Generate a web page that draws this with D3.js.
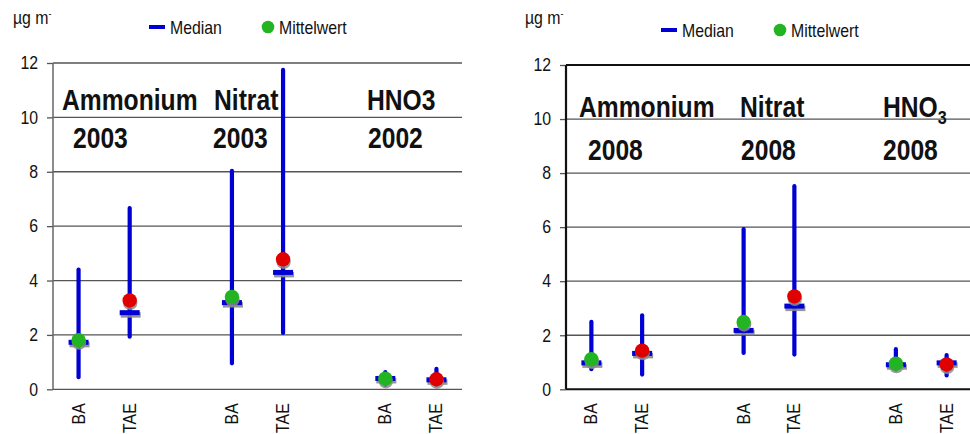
<!DOCTYPE html>
<html>
<head>
<meta charset="utf-8">
<script src="https://cdn.jsdelivr.net/npm/d3@7/dist/d3.min.js"></script>
<style>
  html, body { margin: 0; padding: 0; background: #fff; }
  svg { display: block; }
  text { font-family: "Liberation Sans", Arial, sans-serif; fill: #111; }
</style>
</head>
<body>
<svg id="chart" width="970" height="434"></svg>
<script>
// Category slots along the x axis (two empty slots separate the substances)
const slots = ["Amm-BA", "Amm-TAE", "gap1", "Nit-BA", "Nit-TAE", "gap2", "HNO3-BA", "HNO3-TAE"];
const slotLabels = { "Amm-BA": "BA", "Amm-TAE": "TAE", "Nit-BA": "BA", "Nit-TAE": "TAE", "HNO3-BA": "BA", "HNO3-TAE": "TAE" };
const sites = ["Amm-BA", "Amm-TAE", "Nit-BA", "Nit-TAE", "HNO3-BA", "HNO3-TAE"];
const meanColors = ["#22b422", "#e00000", "#22b422", "#e00000", "#22b422", "#e00000"];
const yTicks = [0, 2, 4, 6, 8, 10, 12];

// Panel 1: 2003 / 2002 measurements (µg m-3)
const min2003 = [0.37, 1.86, 0.88, 2.0, 0.08, 0.08];
const max2003 = [4.48, 6.74, 8.11, 11.82, 0.71, 0.83];
const median2003 = [1.71, 2.8, 3.17, 4.28, 0.38, 0.33];
const mean2003 = [1.81, 3.27, 3.4, 4.78, 0.39, 0.37];
const years2003 = ["2003", "2003", "2002"];

// Panel 2: 2008 measurements (µg m-3)
const min2008 = [0.67, 0.47, 1.27, 1.21, 0.65, 0.44];
const max2008 = [2.57, 2.81, 6.0, 7.59, 1.56, 1.34];
const median2008 = [0.96, 1.31, 2.16, 3.06, 0.89, 0.96];
const mean2008 = [1.11, 1.43, 2.49, 3.44, 0.95, 0.92];
const years2008 = ["2008", "2008", "2008"];

const substances = ["Ammonium", "Nitrat", "HNO3"];

// horizontal condensing factors for a narrow typeface look
const SMALL_K = 0.88;
const BIG_K = 0.85;

const svg = d3.select("#chart");

// place a condensed text at (x, y), optionally rotated
function narrowText(parent, x, y, k, rotate) {
  return parent.append("text")
    .attr("transform", `translate(${x},${y})${rotate ? ` rotate(${rotate})` : ""} scale(${k},1)`);
}

function drawPanel(cfg) {
  const g = svg.append("g");
  const x = d3.scaleBand().domain(slots).range([cfg.x0, cfg.x1]);
  const y = d3.scaleLinear().domain([0, 12]).range([cfg.yBottom, cfg.yTop]);

  // horizontal gridlines
  g.append("g").selectAll("line").data(yTicks).join("line")
    .attr("x1", cfg.x0).attr("x2", cfg.x1)
    .attr("y1", d => y(d)).attr("y2", d => y(d))
    .attr("stroke", d => (cfg.boxed && (d === 0 || d === 12)) ? "#111" : "#555")
    .attr("stroke-width", d => (cfg.boxed && (d === 0 || d === 12)) ? 2 : 1.3);

  // y axis
  const yAxis = g.append("g")
    .attr("transform", `translate(${cfg.x0},0)`)
    .call(d3.axisLeft(y).tickValues(yTicks).tickSize(6).tickPadding(11).tickFormat(d3.format("d")));
  yAxis.select(".domain").remove();
  yAxis.selectAll(".tick line").attr("stroke", "#555").attr("stroke-width", 1.3);
  yAxis.selectAll(".tick text")
    .attr("font-size", 18).attr("fill", "#222")
    .attr("transform", `scale(${SMALL_K},1)`);
  g.append("line")
    .attr("x1", cfg.x0).attr("x2", cfg.x0)
    .attr("y1", y(12)).attr("y2", y(0))
    .attr("stroke", cfg.boxed ? "#111" : "#666")
    .attr("stroke-width", cfg.boxed ? 2.2 : 1.5);

  // x labels (rotated, reading upward)
  sites.forEach(s => {
    narrowText(g, x(s) + x.bandwidth() / 2 + 6, cfg.yBottom + 14, SMALL_K, -90)
      .attr("text-anchor", "end")
      .attr("font-size", 18)
      .attr("fill", "#222")
      .text(slotLabels[s]);
  });

  const rows = sites.map((s, i) => ({
    key: s, min: cfg.min[i], max: cfg.max[i], median: cfg.median[i], mean: cfg.mean[i], color: meanColors[i]
  }));
  const cx = d => x(d.key) + x.bandwidth() / 2;

  // range whiskers
  g.append("g").selectAll("line").data(rows).join("line")
    .attr("x1", cx).attr("x2", cx)
    .attr("y1", d => y(d.min) - 2).attr("y2", d => y(d.max) + 2)
    .attr("stroke", "#0000d4").attr("stroke-width", 4.2).attr("stroke-linecap", "round");

  // median bars with shadow
  g.append("g").selectAll("rect").data(rows).join("rect")
    .attr("x", d => cx(d) - 9).attr("y", d => y(d.median) - 1)
    .attr("width", 20).attr("height", 5.5)
    .attr("fill", "#8a8a8a").attr("opacity", 0.9);
  g.append("g").selectAll("rect").data(rows).join("rect")
    .attr("x", d => cx(d) - 10).attr("y", d => y(d.median) - 3)
    .attr("width", 20).attr("height", 5)
    .attr("fill", "#0000d4");

  // mean dots with shadow
  g.append("g").selectAll("circle").data(rows).join("circle")
    .attr("cx", d => cx(d) + 0.5).attr("cy", d => y(d.mean) + 2.5)
    .attr("r", 7.2).attr("fill", "#8a8a8a").attr("opacity", 0.85);
  g.append("g").selectAll("circle").data(rows).join("circle")
    .attr("cx", cx).attr("cy", d => y(d.mean))
    .attr("r", 7.2).attr("fill", d => d.color);

  // unit label
  const unit = narrowText(g, cfg.unitX, 24, SMALL_K).attr("font-size", 18).attr("fill", "#111");
  unit.append("tspan").text("µg m");
  unit.append("tspan").attr("dy", -7).attr("font-size", 10).text("-");

  // legend
  const lg = g.append("g");
  lg.append("line").attr("x1", cfg.legendX).attr("x2", cfg.legendX + 16)
    .attr("y1", cfg.legendY).attr("y2", cfg.legendY)
    .attr("stroke", "#0000d4").attr("stroke-width", 4);
  narrowText(lg, cfg.legendX + 21, cfg.legendY + 7, SMALL_K)
    .attr("font-size", 18).attr("fill", "#222").text("Median");
  lg.append("circle").attr("cx", cfg.legendX + 119).attr("cy", cfg.legendY)
    .attr("r", 6.3).attr("fill", "#22b422");
  narrowText(lg, cfg.legendX + 130, cfg.legendY + 7, SMALL_K)
    .attr("font-size", 18).attr("fill", "#222").text("Mittelwert");

  // substance names and years
  const tg = g.append("g");
  cfg.titles.forEach((t, i) => {
    const txt = narrowText(tg, t.x, cfg.titleY, BIG_K)
      .attr("font-size", 29).attr("font-weight", "bold").attr("fill", "#000");
    if (cfg.subscript && substances[i] === "HNO3") {
      txt.append("tspan").text("HNO");
      txt.append("tspan").attr("dy", 7).attr("font-size", 19).text("3");
    } else {
      txt.text(substances[i]);
    }
    narrowText(tg, t.yx, cfg.yearY, BIG_K)
      .attr("font-size", 29).attr("font-weight", "bold").attr("fill", "#000")
      .text(cfg.years[i]);
  });
}

drawPanel({
  x0: 53, x1: 462, yTop: 63, yBottom: 389.3, boxed: false,
  min: min2003, max: max2003, median: median2003, mean: mean2003, years: years2003,
  unitX: 13, legendX: 149, legendY: 27,
  titleY: 110, yearY: 148, subscript: false,
  titles: [{ x: 62, yx: 73 }, { x: 214, yx: 213 }, { x: 367, yx: 368 }]
});

drawPanel({
  x0: 566, x1: 972, yTop: 65, yBottom: 389.3, boxed: true,
  min: min2008, max: max2008, median: median2008, mean: mean2008, years: years2008,
  unitX: 525, legendX: 661, legendY: 30,
  titleY: 117, yearY: 160, subscript: true,
  titles: [{ x: 579, yx: 588 }, { x: 740, yx: 741 }, { x: 883, yx: 883 }]
});
</script>
</body>
</html>
